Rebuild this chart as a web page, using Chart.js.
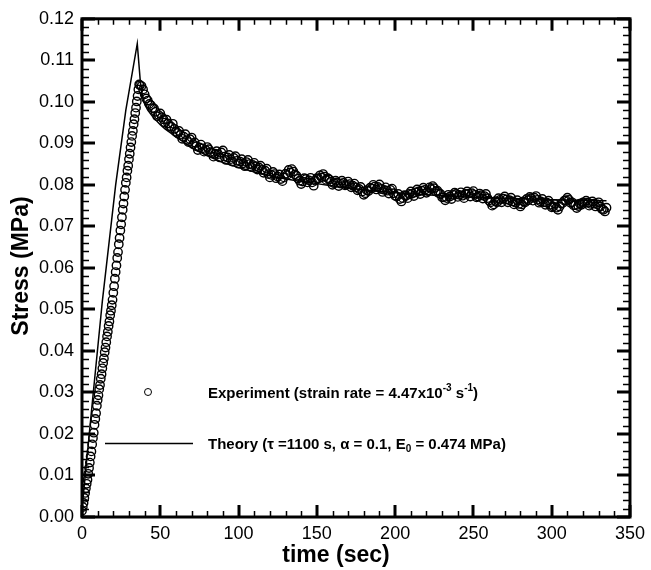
<!DOCTYPE html>
<html>
<head>
<meta charset="utf-8">
<script src="https://cdn.jsdelivr.net/npm/chart.js@4.4.1/dist/chart.umd.min.js"></script>
<style>
    html, body { margin: 0; padding: 0; background: #fff; }
    #wrap { position: relative; width: 651px; height: 570px; }
    .leg { position: absolute; font: bold 15px "Liberation Sans", Arial, sans-serif; color: #000; white-space: nowrap; line-height: 1; }
    .leg sup, .leg sub { font-size: 10px; line-height: 0; position: relative; vertical-align: baseline; }
    .leg sup { top: -7px; }
    .leg sub { top: 3px; }
</style>
</head>
<body>
<div id="wrap">
    <canvas id="stressChart" width="651" height="570"></canvas>
    <div class="leg" style="left:208px; top:385px">Experiment (strain rate = 4.47x10<sup>-3</sup> s<sup>-1</sup>)</div>
    <div class="leg" style="left:208px; top:436px">Theory (&tau; =1100 s, &alpha; = 0.1, E<sub>0</sub> = 0.474 MPa)</div>
</div>
<script>
// ramp part of the experiment (every 0.5 s)
const rampTime = [0, 0.5, 1, 1.5, 2, 2.5, 3, 3.5, 4, 4.5, 5, 5.5, 6, 6.5, 7, 7.5, 8, 8.5, 9, 9.5,
    10, 10.5, 11, 11.5, 12, 12.5, 13, 13.5, 14, 14.5, 15, 15.5, 16, 16.5, 17, 17.5, 18, 18.5, 19, 19.5,
    20, 20.5, 21, 21.5, 22, 22.5, 23, 23.5, 24, 24.5, 25, 25.5, 26, 26.5, 27, 27.5, 28, 28.5, 29, 29.5,
    30, 30.5, 31, 31.5, 32, 32.5, 33, 33.5, 34, 34.5, 35, 35.5, 36, 36.5];
const rampStress = [0.0015, 0.0024, 0.0034, 0.0046, 0.0058, 0.0069, 0.0080, 0.0090, 0.0104, 0.0118,
    0.0131, 0.0146, 0.0158, 0.0175, 0.0190, 0.0203, 0.0222, 0.0236, 0.0250, 0.0268,
    0.0282, 0.0293, 0.0308, 0.0318, 0.0333, 0.0344, 0.0358, 0.0371, 0.0382, 0.0397,
    0.0408, 0.0421, 0.0435, 0.0446, 0.0460, 0.0471, 0.0486, 0.0497, 0.0510, 0.0523,
    0.0540, 0.0556, 0.0574, 0.0590, 0.0606, 0.0624, 0.0638, 0.0657, 0.0672, 0.0690,
    0.0705, 0.0722, 0.0740, 0.0755, 0.0772, 0.0788, 0.0805, 0.0818, 0.0834, 0.0846,
    0.0862, 0.0875, 0.0890, 0.0903, 0.0918, 0.0930, 0.0946, 0.0958, 0.0973, 0.0986,
    0.1001, 0.1014, 0.1030, 0.1042];

// relaxation part of the experiment (every 1 s)
const relaxTime = [37, 38, 39, 40, 41, 42, 43, 44, 45, 46, 47, 48, 49, 50, 51, 52, 53, 54, 55, 56,
    57, 58, 59, 60, 61, 62, 63, 64, 65, 66, 67, 68, 69, 70, 71, 72, 73, 74, 75, 76,
    77, 78, 79, 80, 81, 82, 83, 84, 85, 86, 87, 88, 89, 90, 91, 92, 93, 94, 95, 96,
    97, 98, 99, 100, 101, 102, 103, 104, 105, 106, 107, 108, 109, 110, 111, 112, 113, 114, 115, 116,
    117, 118, 119, 120, 121, 122, 123, 124, 125, 126, 127, 128, 129, 130, 131, 132, 133, 134, 135, 136,
    137, 138, 139, 140, 141, 142, 143, 144, 145, 146, 147, 148, 149, 150, 151, 152, 153, 154, 155, 156,
    157, 158, 159, 160, 161, 162, 163, 164, 165, 166, 167, 168, 169, 170, 171, 172, 173, 174, 175, 176,
    177, 178, 179, 180, 181, 182, 183, 184, 185, 186, 187, 188, 189, 190, 191, 192, 193, 194, 195, 196,
    197, 198, 199, 200, 201, 202, 203, 204, 205, 206, 207, 208, 209, 210, 211, 212, 213, 214, 215, 216,
    217, 218, 219, 220, 221, 222, 223, 224, 225, 226, 227, 228, 229, 230, 231, 232, 233, 234, 235, 236,
    237, 238, 239, 240, 241, 242, 243, 244, 245, 246, 247, 248, 249, 250, 251, 252, 253, 254, 255, 256,
    257, 258, 259, 260, 261, 262, 263, 264, 265, 266, 267, 268, 269, 270, 271, 272, 273, 274, 275, 276,
    277, 278, 279, 280, 281, 282, 283, 284, 285, 286, 287, 288, 289, 290, 291, 292, 293, 294, 295, 296,
    297, 298, 299, 300, 301, 302, 303, 304, 305, 306, 307, 308, 309, 310, 311, 312, 313, 314, 315, 316,
    317, 318, 319, 320, 321, 322, 323, 324, 325, 326, 327, 328, 329, 330, 331, 332, 333, 334, 335];
const relaxStress = [
    0.1040, 0.1038, 0.1030, 0.1018, 0.1008, 0.1003, 0.0995, 0.0992, 0.0985, 0.0984,
    0.0976, 0.0965, 0.0968, 0.0972, 0.0963, 0.0958, 0.0950, 0.0957, 0.0948, 0.0941,
    0.0940, 0.0947, 0.0935, 0.0928, 0.0925, 0.0930, 0.0921, 0.0911, 0.0916, 0.0922,
    0.0908, 0.0903, 0.0910, 0.0914, 0.0898, 0.0902, 0.0893, 0.0884, 0.0890, 0.0897,
    0.0888, 0.0880, 0.0884, 0.0891, 0.0886, 0.0879, 0.0877, 0.0868, 0.0875, 0.0881,
    0.0874, 0.0866, 0.0878, 0.0883, 0.0868, 0.0860, 0.0866, 0.0872, 0.0862, 0.0856,
    0.0865, 0.0869, 0.0858, 0.0851, 0.0856, 0.0862, 0.0852, 0.0845, 0.0855, 0.0860,
    0.0850, 0.0843, 0.0848, 0.0853, 0.0845, 0.0837, 0.0842, 0.0846, 0.0836, 0.0829,
    0.0834, 0.0839, 0.0826, 0.0818, 0.0824, 0.0831, 0.0826, 0.0816, 0.0820, 0.0825,
    0.0814, 0.0809, 0.0818, 0.0827, 0.0824, 0.0836, 0.0830, 0.0838, 0.0832, 0.0825,
    0.0822, 0.0815, 0.0810, 0.0802, 0.0808, 0.0816, 0.0814, 0.0806, 0.0811, 0.0817,
    0.0806, 0.0798, 0.0810, 0.0816, 0.0815, 0.0823, 0.0818, 0.0826, 0.0820, 0.0812,
    0.0816, 0.0813, 0.0808, 0.0800, 0.0804, 0.0810, 0.0806, 0.0797, 0.0803, 0.0810,
    0.0805, 0.0799, 0.0800, 0.0808, 0.0802, 0.0794, 0.0798, 0.0803, 0.0794, 0.0787,
    0.0790, 0.0795, 0.0784, 0.0776, 0.0780, 0.0787, 0.0785, 0.0793, 0.0791, 0.0800,
    0.0796, 0.0789, 0.0795, 0.0801, 0.0790, 0.0783, 0.0788, 0.0794, 0.0786, 0.0779,
    0.0788, 0.0791, 0.0780, 0.0774, 0.0772, 0.0778, 0.0766, 0.0760, 0.0768, 0.0775,
    0.0774, 0.0768, 0.0778, 0.0784, 0.0779, 0.0773, 0.0782, 0.0789, 0.0784, 0.0778,
    0.0786, 0.0793, 0.0788, 0.0781, 0.0785, 0.0794, 0.0790, 0.0797, 0.0792, 0.0784,
    0.0786, 0.0780, 0.0778, 0.0770, 0.0770, 0.0763, 0.0768, 0.0776, 0.0772, 0.0766,
    0.0776, 0.0781, 0.0778, 0.0771, 0.0776, 0.0782, 0.0774, 0.0768, 0.0778, 0.0784,
    0.0779, 0.0772, 0.0780, 0.0785, 0.0776, 0.0770, 0.0772, 0.0779, 0.0775, 0.0767,
    0.0773, 0.0778, 0.0768, 0.0762, 0.0758, 0.0750, 0.0753, 0.0761, 0.0758, 0.0768,
    0.0764, 0.0758, 0.0767, 0.0772, 0.0765, 0.0758, 0.0763, 0.0769, 0.0760, 0.0753,
    0.0757, 0.0763, 0.0754, 0.0748, 0.0753, 0.0760, 0.0758, 0.0766, 0.0763, 0.0771,
    0.0768, 0.0762, 0.0769, 0.0773, 0.0764, 0.0757, 0.0760, 0.0766, 0.0758, 0.0752,
    0.0757, 0.0762, 0.0752, 0.0746, 0.0748, 0.0754, 0.0745, 0.0740, 0.0748, 0.0755,
    0.0756, 0.0762, 0.0763, 0.0769, 0.0764, 0.0757, 0.0758, 0.0751, 0.0751, 0.0744,
    0.0749, 0.0755, 0.0752, 0.0758, 0.0756, 0.0762, 0.0757, 0.0750, 0.0754, 0.0760,
    0.0755, 0.0748, 0.0753, 0.0758, 0.0748, 0.0742, 0.0740, 0.0736, 0.0745];

// theory curve
const theoryTime = [0, 6.7, 13, 21.5, 28, 35.3, 37.3, 38.4, 40, 42, 45, 47, 50, 53, 57, 60, 65, 70, 75, 80,
    90, 100, 112, 125, 137, 150, 162, 175, 187, 200, 225, 250, 275, 300, 335];
const theoryStress = [0.002, 0.028, 0.052, 0.080, 0.098, 0.114, 0.1047, 0.1020, 0.0995, 0.0980, 0.0965, 0.0957,
    0.0945, 0.0935, 0.0924, 0.0915, 0.0903, 0.0890, 0.0880, 0.0870,
    0.0854, 0.0842, 0.0829, 0.0818, 0.0810, 0.0803, 0.0796, 0.0790, 0.0785, 0.0781,
    0.0775, 0.0770, 0.0767, 0.0764, 0.0762];

const xTicks = [0, 50, 100, 150, 200, 250, 300, 350];
const yTicks = [0, 0.01, 0.02, 0.03, 0.04, 0.05, 0.06, 0.07, 0.08, 0.09, 0.10, 0.11, 0.12];

const FONT = '"Liberation Sans", Arial, sans-serif';

const toPoints = (xs, ys) => xs.map((x, i) => ({ x: x, y: ys[i] }));

// frame, inward ticks on all sides, titles and legend marks
const framePlugin = {
    id: 'frame',
    afterDraw(chart) {
        const { ctx, chartArea: a, scales } = chart;
        const xs = scales.x, ys = scales.y;
        ctx.save();
        ctx.strokeStyle = '#000';
        ctx.lineCap = 'butt';

        // minor ticks
        ctx.lineWidth = 1.5;
        ctx.beginPath();
        for (let v = 0; v <= 350; v += 10) {
            if (v % 50 === 0) continue;
            const px = Math.round(xs.getPixelForValue(v)) + 0.5;
            ctx.moveTo(px, a.bottom); ctx.lineTo(px, a.bottom - 6);
            ctx.moveTo(px, a.top); ctx.lineTo(px, a.top + 6);
        }
        for (let i = 0; i <= 60; i++) {
            if (i % 5 === 0) continue;
            const py = Math.round(ys.getPixelForValue(i * 0.002)) + 0.5;
            ctx.moveTo(a.left, py); ctx.lineTo(a.left + 7, py);
            ctx.moveTo(a.right, py); ctx.lineTo(a.right - 7, py);
        }
        ctx.stroke();

        // major ticks
        ctx.lineWidth = 3;
        ctx.beginPath();
        xTicks.forEach(v => {
            const px = Math.round(xs.getPixelForValue(v));
            ctx.moveTo(px, a.bottom); ctx.lineTo(px, a.bottom - 12);
            ctx.moveTo(px, a.top); ctx.lineTo(px, a.top + 12);
        });
        yTicks.forEach(v => {
            const py = Math.round(ys.getPixelForValue(v));
            ctx.moveTo(a.left, py); ctx.lineTo(a.left + 13, py);
            ctx.moveTo(a.right, py); ctx.lineTo(a.right - 13, py);
        });
        ctx.stroke();

        // frame
        ctx.lineWidth = 3;
        ctx.strokeRect(a.left, a.top, a.right - a.left, a.bottom - a.top);

        // axis titles
        ctx.fillStyle = '#000';
        ctx.font = 'bold 23px ' + FONT;
        ctx.textAlign = 'center';
        ctx.textBaseline = 'middle';
        ctx.fillText('time (sec)', 336, 556);
        ctx.save();
        ctx.translate(22, 266);
        ctx.rotate(-Math.PI / 2);
        ctx.fillText('Stress (MPa)', 0, 0);
        ctx.restore();

        // legend marks
        ctx.lineWidth = 1;
        ctx.beginPath();
        ctx.arc(148, 392, 3.5, 0, Math.PI * 2);
        ctx.stroke();
        ctx.lineWidth = 1.5;
        ctx.beginPath();
        ctx.moveTo(105, 443.5); ctx.lineTo(193, 443.5);
        ctx.stroke();
        ctx.restore();
    }
};

new Chart(document.getElementById('stressChart'), {
    type: 'scatter',
    data: {
        datasets: [{
            label: 'Theory',
            data: toPoints(theoryTime, theoryStress),
            showLine: true,
            borderColor: '#000',
            borderWidth: 1.5,
            pointRadius: 0,
            tension: 0,
            order: 2
        }, {
            label: 'Experiment',
            data: toPoints(rampTime.concat(relaxTime), rampStress.concat(relaxStress)),
            showLine: false,
            pointStyle: 'circle',
            pointRadius: 4.2,
            borderWidth: 1.4,
            borderColor: '#000',
            backgroundColor: 'rgba(255,255,255,0)',
            order: 1
        }]
    },
    options: {
        responsive: false,
        devicePixelRatio: 1,
        animation: false,
        layout: { padding: { top: 14, right: 15, left: 0, bottom: 0 } },
        plugins: { legend: { display: false }, tooltip: { enabled: false } },
        scales: {
            x: {
                type: 'linear',
                min: 0,
                max: 350,
                afterFit: s => { s.height = 53; },
                afterBuildTicks: s => { s.ticks = xTicks.map(v => ({ value: v })); },
                grid: { display: false, drawTicks: false },
                border: { display: false },
                ticks: { color: '#000', font: { family: FONT, size: 18 }, padding: 6, maxRotation: 0 }
            },
            y: {
                type: 'linear',
                min: 0,
                max: 0.12,
                afterFit: s => { s.width = 82; },
                afterBuildTicks: s => { s.ticks = yTicks.map(v => ({ value: v })); },
                grid: { display: false, drawTicks: false },
                border: { display: false },
                ticks: {
                    color: '#000',
                    font: { family: FONT, size: 18 },
                    padding: 8,
                    callback: v => v.toFixed(2)
                }
            }
        }
    },
    plugins: [framePlugin]
});
</script>
</body>
</html>
